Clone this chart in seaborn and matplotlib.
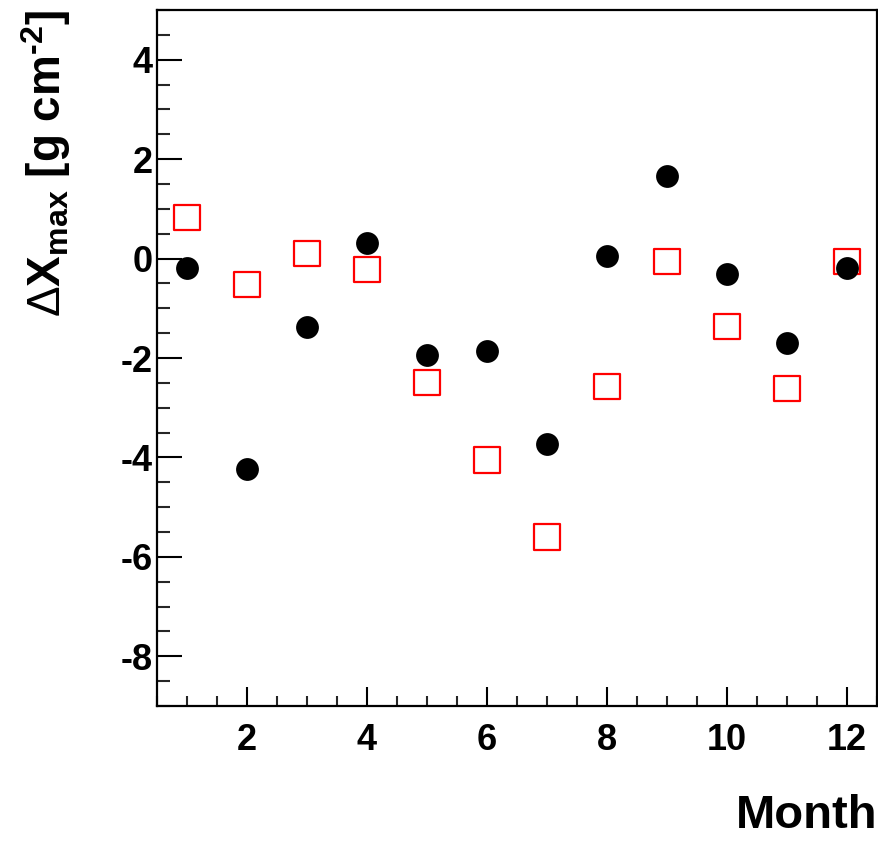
import numpy as np
import pandas as pd
import matplotlib
matplotlib.use("Agg")
import matplotlib.pyplot as plt
import seaborn as sns
from matplotlib.ticker import MultipleLocator

months = [1, 2, 3, 4, 5, 6, 7, 8, 9, 10, 11, 12]
black_vals = [-0.18, -4.23, -1.37, 0.32, -1.94, -1.85, -3.73, 0.06, 1.67, -0.32, -1.69, -0.18]
red_vals = [0.83, -0.52, 0.10, -0.22, -2.50, -4.05, -5.60, -2.58, -0.06, -1.37, -2.62, -0.06]

sns.set_theme(style="white")
plt.rcParams['font.family'] = ['Liberation Sans', 'DejaVu Sans']
plt.rcParams['axes.unicode_minus'] = False
plt.rcParams['mathtext.fontset'] = 'custom'
plt.rcParams['mathtext.rm'] = 'Liberation Sans'
plt.rcParams['mathtext.bf'] = 'Liberation Sans:bold'
plt.rcParams['mathtext.it'] = 'Liberation Sans:bold'
plt.rcParams['text.color'] = 'black'
plt.rcParams['axes.labelcolor'] = 'black'

df_b = pd.DataFrame({"month": months, "val": black_vals})
df_r = pd.DataFrame({"month": months, "val": red_vals})

fig = plt.figure(figsize=(8.79, 8.41), dpi=100)
ax = fig.add_axes([157/879, 1-706/841, (877-157)/879, (706-10)/841])

sns.scatterplot(data=df_r, x="month", y="val", ax=ax, marker="s", s=330,
                facecolor="none", edgecolor="#ff0000", linewidth=1.6, zorder=3)
sns.scatterplot(data=df_b, x="month", y="val", ax=ax, marker="o", s=270,
                color="black", edgecolor="black", linewidth=0, zorder=4)

ax.set_xlim(0.5, 12.5)
ax.set_ylim(-9, 5)
ax.xaxis.set_major_locator(MultipleLocator(2))
ax.xaxis.set_minor_locator(MultipleLocator(0.5))
ax.yaxis.set_major_locator(MultipleLocator(2))
ax.yaxis.set_minor_locator(MultipleLocator(0.5))

for s in ax.spines.values():
    s.set_visible(True)
    s.set_color("black")
    s.set_linewidth(1.6)

ax.tick_params(axis='x', which='major', direction='in', length=14, width=1.5,
               bottom=True, top=False, labelsize=26, pad=12, colors='black')
ax.tick_params(axis='x', which='minor', direction='in', length=7.5, width=1.5,
               bottom=True, top=False)
ax.tick_params(axis='y', which='major', direction='in', length=18, width=1.5,
               left=True, right=False, labelsize=26, pad=3, colors='black')
ax.tick_params(axis='y', which='minor', direction='in', length=9, width=1.5,
               left=True, right=False)
for lab in ax.get_xticklabels() + ax.get_yticklabels():
    lab.set_fontweight('bold')

ax.set_xlabel("Month", fontsize=34, fontweight='bold', loc='right', labelpad=26,
              color='black')
ax.set_ylabel("$\\Delta\\mathbf{X}_{\\mathbf{max}}$ [g cm$^{\\mathbf{\u2010 2}}$]",
              fontsize=33, fontweight='bold', loc='top', labelpad=34, color='black')

fig.savefig("out.png", dpi=100, facecolor="white")
